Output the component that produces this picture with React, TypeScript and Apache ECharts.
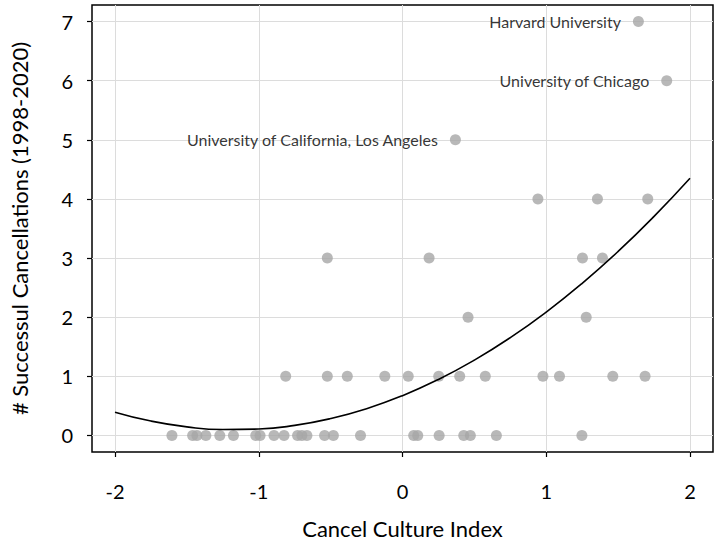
import React, { useEffect, useRef } from "react";
import * as echarts from "echarts";

const xTicks = [-2, -1, 0, 1, 2];
const yTicks = [0, 1, 2, 3, 4, 5, 6, 7];

// Cancel Culture Index per school, grouped by count of successful cancellations
const index0 = [-1.604, -1.46, -1.43, -1.368, -1.271, -1.176, -1.021, -0.991, -0.894, -0.824, -0.73, -0.7, -0.665, -0.542, -0.481, -0.292, 0.078, 0.106, 0.255, 0.426, 0.472, 0.653, 1.248];
const index1 = [-0.8125, -0.523, -0.384, -0.123, 0.04, 0.252, 0.398, 0.576, 0.977, 1.092, 1.463, 1.6875];
const index2 = [0.456, 1.278];
const index3 = [-0.523, 0.185, 1.252, 1.391];
const index4 = [0.942, 1.356, 1.706];

const labelNames = ["Harvard University", "University of Chicago", "University of California, Los Angeles"];
const labelIndex = [1.641, 1.838, 0.368];
const labelCount = [7, 6, 5];

// fitted curve
const curveX = [-2, -1.75, -1.5, -1.25, -1, -0.75, -0.5, -0.25, 0, 0.25, 0.5, 0.75, 1, 1.25, 1.5, 1.75, 2];
const curveY = [0.394, 0.243, 0.145, 0.1, 0.109, 0.17, 0.285, 0.452, 0.673, 0.947, 1.274, 1.654, 2.087, 2.573, 3.112, 3.705, 4.35];

const FONT = "Lato";

export default function App() {
  const ref = useRef<HTMLDivElement>(null);
  useEffect(() => {
    if (!ref.current) return;
    const chart = echarts.init(ref.current, undefined, { renderer: "svg" });
    const rows = [index0, index1, index2, index3, index4];
    const pts: number[][] = [];
    rows.forEach((r, i) => r.forEach((x) => pts.push([x, i])));
    const labeled = labelNames.map((n, i) => ({ name: n, value: [labelIndex[i], labelCount[i]] }));
    const axisCommon = {
      axisLine: { show: false, onZero: false },
      axisTick: { show: true, length: 5, lineStyle: { color: "#000", width: 1.2 } },
      splitLine: { show: true, lineStyle: { color: "#dcdcdc", width: 1 } },
    };
    chart.setOption({
      animation: false,
      backgroundColor: "#fff",
      grid: {
        left: 91,
        top: 5,
        right: 3,
        bottom: 90,
        show: true,
        borderColor: "#000",
        borderWidth: 1.5,
        backgroundColor: "transparent",
      },
      xAxis: {
        type: "value",
        min: -2.16,
        max: 2.16,
        ...axisCommon,
        axisTick: { ...axisCommon.axisTick, customValues: xTicks },
        axisLabel: {
          customValues: xTicks,
          color: "#000",
          fontFamily: FONT,
          fontSize: 20,
          margin: 29,
          formatter: (v: number) => String(Math.round(v)),
        },
        name: "Cancel Culture Index",
        nameLocation: "middle",
        nameGap: 65,
        nameTextStyle: { color: "#000", fontFamily: FONT, fontSize: 22 },
      },
      yAxis: {
        type: "value",
        min: -0.28,
        max: 7.28,
        ...axisCommon,
        axisTick: { ...axisCommon.axisTick, customValues: yTicks },
        axisLabel: {
          customValues: yTicks,
          color: "#000",
          fontFamily: FONT,
          fontSize: 20,
          margin: 19,
          align: "right",
          formatter: (v: number) => String(Math.round(v)),
        },
        name: "# Successul Cancellations (1998-2020)",
        nameLocation: "middle",
        nameGap: 62,
        nameMoveOverlap: false,
        nameTextStyle: { color: "#000", fontFamily: FONT, fontSize: 22 },
      },
      series: [
        {
          type: "scatter",
          data: pts,
          symbolSize: 11,
          itemStyle: { color: "#a6a6a6" },
          z: 2,
        },
        {
          type: "scatter",
          data: labeled,
          symbolSize: 11,
          itemStyle: { color: "#a6a6a6" },
          label: {
            show: true,
            position: "left",
            distance: 12,
            formatter: "{b}",
            color: "#000",
            fontFamily: FONT,
            fontSize: 16,
          },
          z: 2,
        },
        {
          type: "line",
          data: curveX.map((x, i) => [x, curveY[i]]),
          smooth: true,
          showSymbol: false,
          lineStyle: { color: "#000", width: 1.6 },
          z: 3,
        },
      ],
    });
    return () => chart.dispose();
  }, []);
  return <div ref={ref} style={{ width: 716, height: 544, position: "absolute", left: 0, top: 0 }} />;
}
